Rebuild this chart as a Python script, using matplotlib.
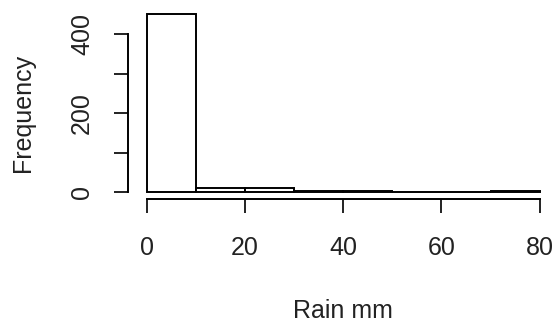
import matplotlib
matplotlib.use("Agg")
import matplotlib.pyplot as plt

bin_edges = [0, 10, 20, 30, 40, 50, 60, 70, 80]
counts = [450, 10, 10, 4, 4, 0, 0, 4]
x_ticks = [0, 20, 40, 60, 80]
y_ticks = [0, 100, 200, 300, 400]
y_tick_labels = ["0", "", "200", "", "400"]

plt.rcParams['font.family'] = ['Liberation Sans', 'DejaVu Sans']

W, H = 555, 323
fig = plt.figure(figsize=(W / 100, H / 100), dpi=100)
left_px, right_px = 131.0, 555.4
top_px, bottom_px = 7.1, 199.4
ax = fig.add_axes([left_px / W, 1 - bottom_px / H, (right_px - left_px) / W, (bottom_px - top_px) / H])

lefts = bin_edges[:-1]
widths = [b - a for a, b in zip(bin_edges[:-1], bin_edges[1:])]
ax.bar(lefts, counts, width=widths, align='edge', facecolor='white', edgecolor='black', linewidth=1.4)

ax.set_xlim(-3.2, 83.2)
ax.set_ylim(-18, 468)

for s in ['top', 'right']:
    ax.spines[s].set_visible(False)
ax.spines['left'].set_bounds(0, 400)
ax.spines['bottom'].set_bounds(0, 80)
ax.spines['left'].set_position(('outward', 2.5))
ax.spines['left'].set_linewidth(1.4)
ax.spines['bottom'].set_linewidth(1.4)

ax.set_xticks(x_ticks)
ax.set_xticklabels([str(v) for v in x_ticks])
ax.set_yticks(y_ticks)
ax.set_yticklabels(y_tick_labels, rotation=90, va='center')
ax.tick_params(axis='both', direction='out', length=10, width=1.4, labelsize=18, colors='#222222')
ax.tick_params(axis='x', pad=16)
ax.tick_params(axis='y', pad=14)

fig.text(23 / W, 1 - 113 / H, "Frequency", rotation=90, ha='center', va='center', fontsize=18, color='#222222')
fig.text(343 / W, 1 - 311 / H, "Rain mm", ha='center', va='center', fontsize=18, color='#222222')

fig.savefig("out.png", dpi=100)
